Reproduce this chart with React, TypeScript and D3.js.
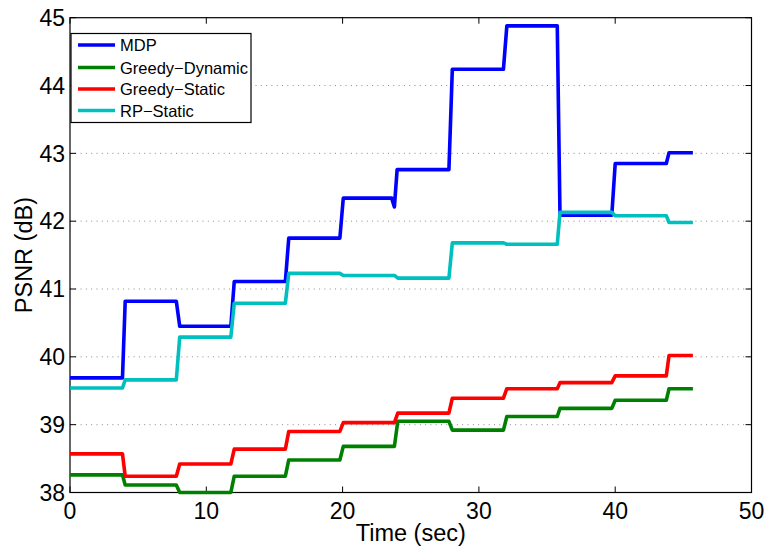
import React from "react";
import * as d3 from "d3";

// PSNR over time for four rate-adaptation strategies (step traces)
const seriesNames = ["MDP", "Greedy−Dynamic", "Greedy−Static", "RP−Static"];
const seriesColors = ["#0000ff", "#008000", "#ff0000", "#00bfbf"];

const mdpTime = [0, 3.85, 4.05, 7.8, 8.05, 11.8, 12.05, 15.8, 16.05, 19.8, 20.05, 23.6, 23.8, 24.0, 27.8, 28.05, 31.8, 32.05, 35.75, 35.95, 39.75, 40.0, 43.75, 43.95, 45.7];
const mdpPsnr = [39.69, 39.69, 40.82, 40.82, 40.45, 40.45, 41.11, 41.11, 41.75, 41.75, 42.34, 42.34, 42.21, 42.76, 42.76, 44.24, 44.24, 44.88, 44.88, 42.09, 42.09, 42.85, 42.85, 43.01, 43.01];

const stepTime = [0, 3.85, 4.05, 7.8, 8.05, 11.8, 12.05, 15.8, 16.05, 19.8, 20.05, 23.8, 24.05, 27.8, 28.05, 31.8, 32.05, 35.75, 35.95, 39.75, 40.0, 43.75, 43.95, 45.7];
const greedyDynamicPsnr = [38.26, 38.26, 38.11, 38.11, 38.0, 38.0, 38.24, 38.24, 38.48, 38.48, 38.68, 38.68, 39.05, 39.05, 38.92, 38.92, 39.12, 39.12, 39.24, 39.24, 39.36, 39.36, 39.53, 39.53];
const greedyStaticPsnr = [38.57, 38.57, 38.24, 38.24, 38.42, 38.42, 38.64, 38.64, 38.9, 38.9, 39.03, 39.03, 39.17, 39.17, 39.39, 39.39, 39.53, 39.53, 39.62, 39.62, 39.72, 39.72, 40.02, 40.02];
const rpStaticPsnr = [39.54, 39.54, 39.66, 39.66, 40.29, 40.29, 40.79, 40.79, 41.23, 41.23, 41.2, 41.2, 41.16, 41.16, 41.68, 41.68, 41.66, 41.66, 42.13, 42.13, 42.08, 42.08, 41.98, 41.98];

const xTicks = [0, 10, 20, 30, 40, 50];
const yTicks = [38, 39, 40, 41, 42, 43, 44, 45];

const W = 765;
const H = 552;
const plot = { left: 70, right: 751.5, top: 17.7, bottom: 492.5 };
const FONT = "'Liberation Sans', Arial, Helvetica, sans-serif";

export default function App() {
  const x = d3.scaleLinear().domain([0, 50]).range([plot.left, plot.right]);
  const y = d3.scaleLinear().domain([38, 45]).range([plot.bottom, plot.top]);

  const series = [
    { name: seriesNames[0], color: seriesColors[0], t: mdpTime, v: mdpPsnr },
    { name: seriesNames[1], color: seriesColors[1], t: stepTime, v: greedyDynamicPsnr },
    { name: seriesNames[2], color: seriesColors[2], t: stepTime, v: greedyStaticPsnr },
    { name: seriesNames[3], color: seriesColors[3], t: stepTime, v: rpStaticPsnr },
  ];

  const line = d3
    .line<[number, number]>()
    .x((d) => x(d[0]))
    .y((d) => y(d[1]));

  const tickLen = 6;
  const legend = { x: 71, y: 33.5, w: 180, h: 89, rowY: [45, 67.5, 89, 110.5] };

  return (
    <svg
      width={W}
      height={H}
      style={{ position: "absolute", left: 0, top: 0, background: "#fff" }}
      fontFamily={FONT}
    >
      <rect x={0} y={0} width={W} height={H} fill="#fff" />
      {/* horizontal dotted grid */}
      {yTicks.slice(1, -1).map((t) => (
        <line
          key={"g" + t}
          x1={plot.left}
          x2={plot.right}
          y1={y(t)}
          y2={y(t)}
          stroke="#8c8c8c"
          strokeWidth={1}
          strokeDasharray="1 4.3"
        />
      ))}
      {/* ticks on all four sides */}
      {xTicks.map((t) => (
        <g key={"xt" + t} stroke="#000" strokeWidth={1}>
          <line x1={x(t)} x2={x(t)} y1={plot.bottom} y2={plot.bottom - tickLen} />
          <line x1={x(t)} x2={x(t)} y1={plot.top} y2={plot.top + tickLen} />
        </g>
      ))}
      {yTicks.map((t) => (
        <g key={"yt" + t} stroke="#000" strokeWidth={1}>
          <line x1={plot.left} x2={plot.left + tickLen} y1={y(t)} y2={y(t)} />
          <line x1={plot.right} x2={plot.right - tickLen} y1={y(t)} y2={y(t)} />
        </g>
      ))}
      {/* axes box */}
      <rect
        x={plot.left}
        y={plot.top}
        width={plot.right - plot.left}
        height={plot.bottom - plot.top}
        fill="none"
        stroke="#000"
        strokeWidth={1.2}
      />
      {/* data */}
      {series.map((s) => (
        <path
          key={s.name}
          d={line(s.t.map((t, i) => [t, s.v[i]] as [number, number])) || ""}
          fill="none"
          stroke={s.color}
          strokeWidth={3.6}
          strokeLinejoin="round"
        />
      ))}
      {/* tick labels */}
      {xTicks.map((t) => (
        <text key={"xl" + t} x={x(t)} y={519} textAnchor="middle" fontSize={23} fill="#000">
          {t}
        </text>
      ))}
      {yTicks.map((t) => (
        <text
          key={"yl" + t}
          x={65}
          y={y(t) + 8.3}
          textAnchor="end"
          fontSize={23}
          fill="#000"
        >
          {t}
        </text>
      ))}
      {/* axis titles */}
      <text x={(plot.left + plot.right) / 2} y={541} textAnchor="middle" fontSize={23.5} fill="#000">
        Time (sec)
      </text>
      <text
        transform={`translate(31.5, ${(plot.top + plot.bottom) / 2}) rotate(-90)`}
        textAnchor="middle"
        fontSize={23.5}
        fill="#000"
      >
        PSNR (dB)
      </text>
      {/* legend */}
      <rect
        x={legend.x}
        y={legend.y}
        width={legend.w}
        height={legend.h}
        fill="#fff"
        stroke="#000"
        strokeWidth={1.2}
      />
      {series.map((s, i) => (
        <g key={"lg" + s.name}>
          <line
            x1={78}
            x2={115}
            y1={legend.rowY[i]}
            y2={legend.rowY[i]}
            stroke={s.color}
            strokeWidth={3.6}
          />
          <text x={120} y={legend.rowY[i] + 6} fontSize={16.5} fill="#000">
            {s.name}
          </text>
        </g>
      ))}
    </svg>
  );
}
